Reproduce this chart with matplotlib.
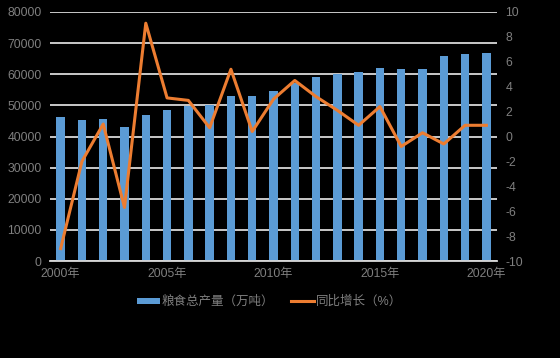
import matplotlib
matplotlib.use("Agg")
import matplotlib.pyplot as plt
import numpy as np

plt.rcParams["font.family"] = ["Liberation Sans", "Noto Sans CJK SC", "DejaVu Sans"]
plt.rcParams["axes.unicode_minus"] = False

years = list(range(2000, 2021))
year_labels = [f"{y}年" if y % 5 == 0 else "" for y in years]
output = [46218, 45264, 45706, 43070, 46947, 48402, 49804, 50160, 52871, 53082,
          54648, 57121, 58958, 60194, 60703, 62144, 61625, 61791, 65789, 66384, 66949]
growth = [-9.0, -2.0, 1.0, -5.7, 9.1, 3.1, 2.9, 0.7, 5.4, 0.4,
          3.0, 4.5, 3.2, 2.1, 0.9, 2.4, -0.8, 0.3, -0.6, 0.9, 0.9]

bar_color = "#5B9BD5"
line_color = "#ED7D31"
text_color = "#7F7F7F"
grid_color = "#D9D9D9"

fig = plt.figure(figsize=(5.6, 3.58), dpi=100, facecolor="black")
ax = fig.add_axes([50 / 560, 97 / 358, 447 / 560, 249 / 358])
ax.set_facecolor("black")
ax.set_axisbelow(True)
x = np.arange(len(years))
ax.bar(x, output, width=0.4, color=bar_color, zorder=2, label="粮食总产量（万吨）")
ax.set_xlim(-0.5, len(years) - 0.5)
ax.set_ylim(0, 80000)
ax.set_yticks(np.arange(0, 80001, 10000))
ax.grid(axis="y", color=grid_color, linewidth=1.3, zorder=0)
ax.set_xticks(x)
ax.set_xticklabels(year_labels)
ax.tick_params(axis="both", length=0, colors=text_color, labelsize=8.8)
ax.tick_params(axis="y", pad=6)
ax.tick_params(axis="x", pad=5)
for s in ["top", "right", "left"]:
    ax.spines[s].set_visible(False)
ax.spines["bottom"].set_color(grid_color)
ax.spines["bottom"].set_linewidth(1.3)

ax2 = ax.twinx()
ax2.plot(x, growth, color=line_color, linewidth=2.2, zorder=3, label="同比增长（%）")
ax2.set_ylim(-10, 10)
ax2.set_yticks(np.arange(-10, 11, 2))
ax2.tick_params(axis="y", length=0, colors=text_color, labelsize=8.8, pad=6)
for s in ax2.spines.values():
    s.set_visible(False)

h1, l1 = ax.get_legend_handles_labels()
h2, l2 = ax2.get_legend_handles_labels()
leg = fig.legend(h1 + h2, l1 + l2, loc="center left", bbox_to_anchor=(137 / 560, 56 / 358),
                 ncol=2, frameon=False, fontsize=9, labelcolor=text_color,
                 handlelength=1.8, handleheight=0.4, columnspacing=1.4,
                 handletextpad=0.15, borderpad=0, borderaxespad=0)

fig.savefig("out.png", dpi=100, facecolor="black")
